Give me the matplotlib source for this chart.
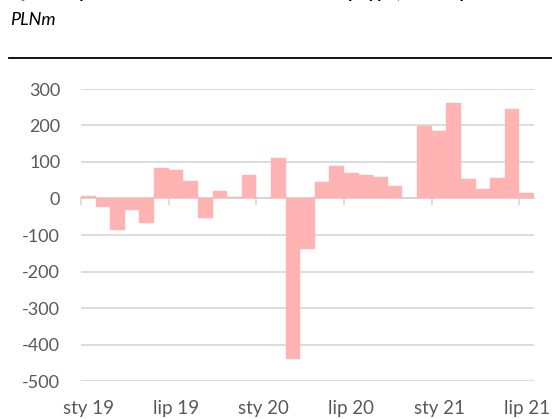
import matplotlib
matplotlib.use("Agg")
import matplotlib.pyplot as plt
from matplotlib.lines import Line2D
import numpy as np

months = ["sty 19", "lut 19", "mar 19", "kwi 19", "maj 19", "cze 19",
          "lip 19", "sie 19", "wrz 19", "paź 19", "lis 19", "gru 19",
          "sty 20", "lut 20", "mar 20", "kwi 20", "maj 20", "cze 20",
          "lip 20", "sie 20", "wrz 20", "paź 20", "lis 20", "gru 20",
          "sty 21", "lut 21", "mar 21", "kwi 21", "maj 21", "cze 21",
          "lip 21"]
values = [6, -22, -86, -31, -67, 83, 79, 48, -53, 20, 4, 65,
          0, 110, -440, -138, 44, 90, 69, 64, 59, 34, 0,
          198, 186, 263, 53, 25, 57, 245, 14]
label_months = ["sty 19", "lip 19", "sty 20", "lip 20", "sty 21", "lip 21"]
yticks = [-500, -400, -300, -200, -100, 0, 100, 200, 300]

title = "Quarterly net flows to investment funds by type, PLNm per month"
subtitle = "PLNm"

plt.rcParams['font.family'] = ['Lato', 'DejaVu Sans']

fig = plt.figure(figsize=(5.52, 4.19), dpi=100)
ax = fig.add_axes([81/552, 1-381/419, (534-81)/552, (381-89)/419])

x = np.arange(len(months))
ax.bar(x, values, width=1.0, color="#ffb3b3", edgecolor="#ffb3b3", linewidth=0.3, zorder=4)

ax.set_xlim(-0.5, len(months) - 0.5)
ax.set_ylim(yticks[0], yticks[-1])
ax.set_yticks(yticks)
ax.set_yticklabels([str(v) for v in yticks])
ax.yaxis.grid(True, color="#d9d9d9", linewidth=1.3, zorder=0)
ax.set_axisbelow(True)
ax.tick_params(axis='y', length=0, pad=15, labelsize=13, labelcolor="#595959")

for s in ["left", "right", "top"]:
    ax.spines[s].set_visible(False)
ax.spines["bottom"].set_position(("data", 0))
ax.spines["bottom"].set_color("#d9d9d9")
ax.spines["bottom"].set_linewidth(1.3)
ax.spines["bottom"].set_zorder(3)

idx = [months.index(m) for m in label_months]
ax.set_xticks([i - 0.5 for i in idx])
ax.set_xticklabels([])
ax.tick_params(axis='x', length=5, width=1.3, color="#d9d9d9", direction='out')

sec = ax.secondary_xaxis(0)
sec.set_xticks(idx)
sec.set_xticklabels(label_months)
sec.tick_params(length=0, pad=14, labelsize=13.5, labelcolor="#595959")
for s in sec.spines.values():
    s.set_visible(False)

fig.text(10/552, 1 + 2/419, title, fontsize=13, fontweight='bold', va='baseline', ha='left', color='black')
fig.text(10/552, 1 - 25/419, subtitle, fontsize=13, style='italic', va='baseline', ha='left', color='black')
fig.add_artist(Line2D([9/552, 1.0], [1 - 58/419, 1 - 58/419], color='black', linewidth=1.3))

fig.savefig("out.png", dpi=100)
